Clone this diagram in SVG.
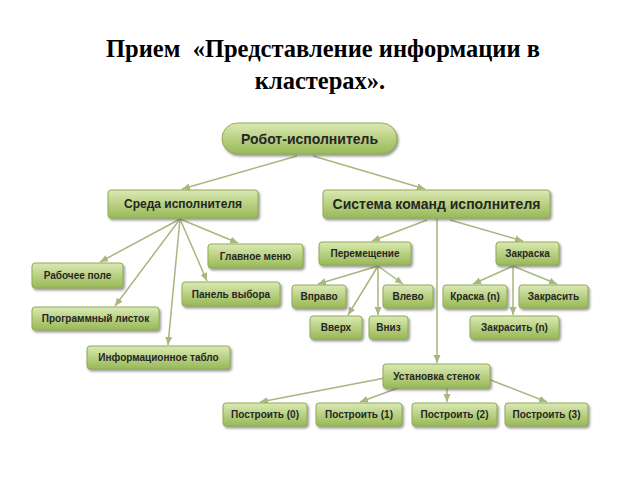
<svg xmlns="http://www.w3.org/2000/svg" width="640" height="480" viewBox="0 0 640 480">
<defs>
<linearGradient id="g" x1="0" y1="0" x2="0" y2="1">
<stop offset="0" stop-color="#dbe9b6"/>
<stop offset="0.45" stop-color="#bcd387"/>
<stop offset="1" stop-color="#98b957"/>
</linearGradient>
<filter id="sh" x="-10%" y="-20%" width="130%" height="160%">
<feDropShadow dx="1.5" dy="2" stdDeviation="1" flood-color="#4a4a4a" flood-opacity="0.55"/>
</filter>
<marker id="ah" markerUnits="userSpaceOnUse" markerWidth="9" markerHeight="8" refX="8" refY="4" orient="auto">
<path d="M0,0.5 L8,4 L0,7.5 Z" fill="#a9b67e"/>
</marker>
</defs>
<style>
.box{fill:url(#g);stroke:#8faa55;stroke-width:1;filter:url(#sh)}
.t{font-family:"Liberation Sans",Arial,sans-serif;font-weight:bold;fill:#262626;text-anchor:middle;dominant-baseline:central}
.s{font-size:10px}
.m{font-size:12px}
.l{font-size:14px}
.title{font-family:"Liberation Serif","Times New Roman",serif;font-weight:bold;font-size:24.5px;fill:#000;text-anchor:middle}
#connectors line{stroke:#a9b67e;stroke-width:1.5;marker-end:url(#ah)}
</style>
<rect width="640" height="480" fill="#fff"/>
<text class="title" x="323" y="57" xml:space="preserve">Прием  «Представление информации в</text>
<text class="title" x="320" y="89">кластерах».</text>

<g id="connectors">
<line x1="297" y1="156" x2="182" y2="189"/>
<line x1="313" y1="156" x2="425" y2="189"/>
<line x1="180" y1="219" x2="100" y2="262"/>
<line x1="180" y1="219" x2="115" y2="306"/>
<line x1="180" y1="219" x2="168" y2="345"/>
<line x1="180" y1="219" x2="207" y2="281"/>
<line x1="180" y1="219" x2="238" y2="243"/>
<line x1="427" y1="220" x2="372" y2="241"/>
<line x1="450" y1="220" x2="523" y2="241"/>
<line x1="437" y1="219" x2="437" y2="363"/>
<line x1="378" y1="266" x2="318" y2="284"/>
<line x1="378" y1="266" x2="348" y2="315"/>
<line x1="378" y1="266" x2="378" y2="315"/>
<line x1="378" y1="266" x2="403" y2="284"/>
<line x1="513" y1="266" x2="473" y2="284"/>
<line x1="513" y1="266" x2="513" y2="315"/>
<line x1="513" y1="266" x2="557" y2="284"/>
<line x1="385" y1="378" x2="260" y2="402"/>
<line x1="398" y1="388" x2="360" y2="402"/>
<line x1="447" y1="388" x2="447" y2="402"/>
<line x1="488" y1="379" x2="547" y2="402"/>
</g>

<g id="root"><rect class="box" x="222" y="123" width="175" height="31" rx="15.5"/><text class="t l" x="309.5" y="138.5">Робот-исполнитель</text></g>
<g id="sreda"><rect class="box" x="108" y="190" width="150" height="28" rx="3"/><text class="t m" x="183" y="204">Среда исполнителя</text></g>
<g id="sistema"><rect class="box" x="323" y="190" width="227" height="28" rx="3"/><text class="t l" x="436.5" y="204">Система команд исполнителя</text></g>
<g id="rabochee"><rect class="box" x="32" y="263" width="91" height="25" rx="3"/><text class="t s" x="77.5" y="275.5">Рабочее поле</text></g>
<g id="glavnoe"><rect class="box" x="208" y="244" width="95" height="24" rx="3"/><text class="t s" x="255.5" y="256">Главное меню</text></g>
<g id="panel"><rect class="box" x="182" y="282" width="98" height="24" rx="3"/><text class="t s" x="231" y="294">Панель выбора</text></g>
<g id="programmny"><rect class="box" x="32" y="307" width="127" height="23" rx="3"/><text class="t s" x="95.5" y="318.5">Программный листок</text></g>
<g id="info"><rect class="box" x="87" y="346" width="143" height="23" rx="3"/><text class="t s" x="158.5" y="357.5">Информационное табло</text></g>
<g id="peremeshenie"><rect class="box" x="319" y="242" width="92" height="23" rx="3"/><text class="t s" x="365" y="253.5">Перемещение</text></g>
<g id="zakraska"><rect class="box" x="496" y="242" width="63" height="23" rx="3"/><text class="t s" x="527.5" y="253.5">Закраска</text></g>
<g id="vpravo"><rect class="box" x="292" y="285" width="54" height="23" rx="3"/><text class="t s" x="319" y="296.5">Вправо</text></g>
<g id="vlevo"><rect class="box" x="383" y="285" width="50" height="23" rx="3"/><text class="t s" x="408" y="296.5">Влево</text></g>
<g id="vverh"><rect class="box" x="310" y="316" width="52" height="23" rx="3"/><text class="t s" x="336" y="327.5">Вверх</text></g>
<g id="vniz"><rect class="box" x="369" y="316" width="39" height="23" rx="3"/><text class="t s" x="388.5" y="327.5">Вниз</text></g>
<g id="kraska-n"><rect class="box" x="443" y="285" width="64" height="23" rx="3"/><text class="t s" x="475" y="296.5">Краска (n)</text></g>
<g id="zakrasit"><rect class="box" x="519" y="285" width="69" height="23" rx="3"/><text class="t s" x="553.5" y="296.5">Закрасить</text></g>
<g id="zakrasit-n"><rect class="box" x="470" y="316" width="89" height="23" rx="3"/><text class="t s" x="514.5" y="327.5">Закрасить (n)</text></g>
<g id="ustanovka"><rect class="box" x="383" y="364" width="107" height="24" rx="3"/><text class="t s" x="436.5" y="376">Установка стенок</text></g>
<g id="p0"><rect class="box" x="223" y="403" width="84" height="23" rx="3"/><text class="t s" x="265" y="414.5">Построить (0)</text></g>
<g id="p1"><rect class="box" x="316" y="403" width="86" height="23" rx="3"/><text class="t s" x="359" y="414.5">Построить (1)</text></g>
<g id="p2"><rect class="box" x="412" y="403" width="85" height="23" rx="3"/><text class="t s" x="454.5" y="414.5">Построить (2)</text></g>
<g id="p3"><rect class="box" x="505" y="403" width="83" height="23" rx="3"/><text class="t s" x="546.5" y="414.5">Построить (3)</text></g>
</svg>
